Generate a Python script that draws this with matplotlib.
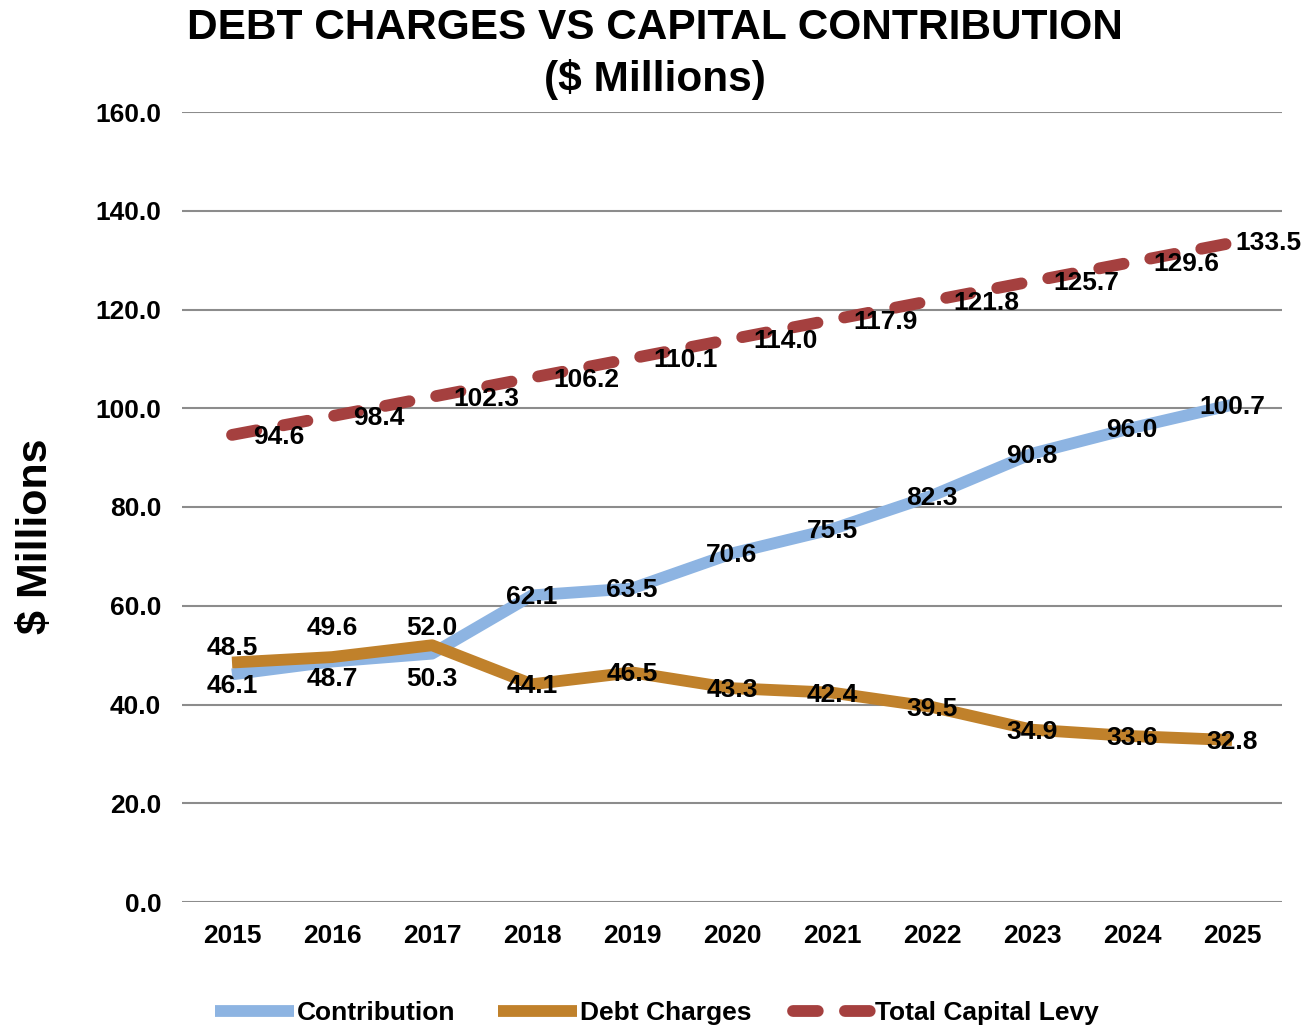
import matplotlib
matplotlib.use('Agg')
import matplotlib.pyplot as plt
import numpy as np

plt.rcParams['font.family'] = ['Liberation Sans', 'DejaVu Sans']
plt.rcParams['font.weight'] = 'bold'

years = ['2015', '2016', '2017', '2018', '2019', '2020',
         '2021', '2022', '2023', '2024', '2025']
contribution = [46.1, 48.7, 50.3, 62.1, 63.5, 70.6, 75.5, 82.3, 90.8, 96.0, 100.7]
debt_charges = [48.5, 49.6, 52.0, 44.1, 46.5, 43.3, 42.4, 39.5, 34.9, 33.6, 32.8]
capital_levy = [94.6, 98.4, 102.3, 106.2, 110.1, 114.0, 117.9, 121.8, 125.7, 129.6, 133.5]

c_blue = '#8db4e2'
c_gold = '#c0812b'
c_red = '#a5403f'

fig = plt.figure(figsize=(13.1, 10.27), dpi=100)
ax = fig.add_axes([182/1310, 1 - 902/1027, 1100/1310, 790/1027])

x = np.arange(len(years))

l1, = ax.plot(x, contribution, color=c_blue, lw=8.5, solid_capstyle='butt',
              label='Contribution', zorder=3)
l2, = ax.plot(x, debt_charges, color=c_gold, lw=8.5, solid_capstyle='butt',
              label='Debt Charges', zorder=4)
l3, = ax.plot(x, capital_levy, color=c_red, lw=8.5, dashes=(2.1, 2.3),
              dash_capstyle='round', label='Total Capital Levy', zorder=3)

# label offsets in pixels (dx, dy), dy positive = up
c_off = [(0, -12), (0, -17), (0, -25)] + [(0, -2)] * 8
d_off = [(0, 15), (0, 29), (0, 17)] + [(0, -2)] * 8
for i in range(len(x)):
    ax.annotate(f'{contribution[i]:.1f}', (x[i], contribution[i]),
                xytext=c_off[i], textcoords='offset pixels',
                ha='center', va='center', fontsize=19, zorder=6)
    ax.annotate(f'{debt_charges[i]:.1f}', (x[i], debt_charges[i]),
                xytext=d_off[i], textcoords='offset pixels',
                ha='center', va='center', fontsize=19, zorder=6)
    dx = 3 if i == len(x) - 1 else 21
    dy = 0 if i == len(x) - 1 else -2
    ax.annotate(f'{capital_levy[i]:.1f}', (x[i], capital_levy[i]),
                xytext=(dx, dy), textcoords='offset pixels',
                ha='left', va='center', fontsize=19, zorder=6)

ax.set_xlim(-0.5, 10.5)
ax.set_ylim(0, 160)
ax.set_xticks(x)
ax.set_xticklabels(years)
ax.set_yticks(np.arange(0, 161, 20))
ax.set_yticklabels([f'{v:.1f}' for v in np.arange(0, 161, 20)])
ax.tick_params(length=0, labelsize=19)
ax.tick_params(axis='x', pad=16)
ax.tick_params(axis='y', pad=15)
ax.grid(axis='y', color='#8c8c8c', lw=1.5)
ax.set_axisbelow(True)
for s in ax.spines.values():
    s.set_visible(False)

fig.text(655/1310, 1 - 28/1027, 'DEBT CHARGES VS CAPITAL CONTRIBUTION',
         ha='center', va='center', fontsize=30.5)
fig.text(655/1310, 1 - 79/1027, '($ Millions)',
         ha='center', va='center', fontsize=30.5)
fig.text(36/1310, 1 - 536/1027, '$ Millions', rotation=90,
         ha='center', va='center', fontsize=31)

fig.legend(handles=[l1, l2, l3], loc='center', bbox_to_anchor=(657/1310, 1 - 1013/1027),
           ncol=3, frameon=False, fontsize=19, handlelength=3.0,
           handletextpad=0.1, columnspacing=1.6)

fig.savefig('out.png', dpi=100)
